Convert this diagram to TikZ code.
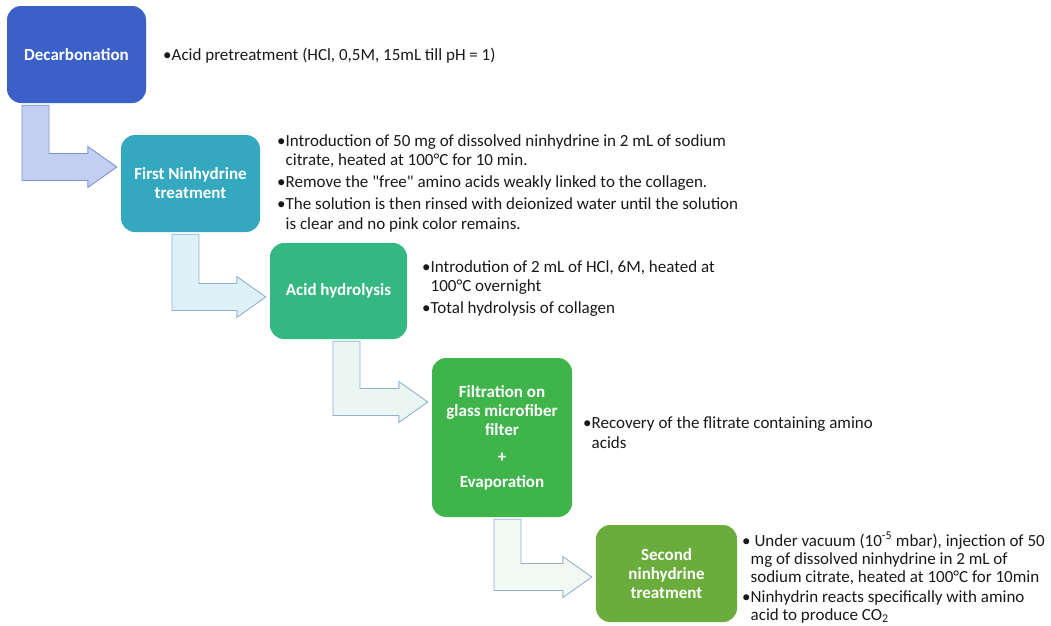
\documentclass[tikz,border=0pt]{standalone}
\usepackage{fontspec}
\setmainfont{Carlito}[Ligatures=TeXOff]
\usetikzlibrary{calc}
\definecolor{cDec}{RGB}{59,97,200}
\definecolor{cFirst}{RGB}{52,168,190}
\definecolor{cAcid}{RGB}{52,183,128}
\definecolor{cFilt}{RGB}{62,180,74}
\definecolor{cSec}{RGB}{106,173,61}
\definecolor{aFillA}{RGB}{196,205,242}
\definecolor{aLineA}{RGB}{125,148,214}
\definecolor{aFillB}{RGB}{221,241,248}
\definecolor{aFillC}{RGB}{233,246,241}
\definecolor{aFillD}{RGB}{242,249,243}
\definecolor{aLine}{RGB}{146,176,210}
\definecolor{txt}{RGB}{25,25,25}

\tikzset{
  stepbox/.style={rectangle, rounded corners=14pt, draw=none, text=white,
    font=\fontsize{17}{19}\selectfont\bfseries, align=center, inner sep=0pt},
  desc/.style={anchor=base west, align=left, inner sep=0pt,
    font=\fontsize{17}{19.5}\selectfont, text=txt},
  bent/.style={line width=0.9pt, line join=miter},
}

% #1 source, #2 target, #3 shaft centre offset from source centre (pt), #4 tip offset above target centre (pt), #5 fill, #6 line
\newcommand{\bentarrow}[6]{%
  \path[bent, fill=#5, draw=#6] let \p1=(#1.south), \p2=(#2.west),
      \n1={\x1+#3pt-13.5pt}, \n2={\x1+#3pt+13.5pt}, \n3={\y2+#4pt} in
    (\n1, {\y1-2pt})
    -- (\n1, {\n3-13.5pt})
    -- ({\x2-33pt}, {\n3-13.5pt})
    -- ({\x2-33pt}, {\n3-20.5pt})
    -- ({\x2-4pt}, \n3)
    -- ({\x2-33pt}, {\n3+20.5pt})
    -- ({\x2-33pt}, {\n3+13.5pt})
    -- (\n2, {\n3+13.5pt})
    -- (\n2, {\y1-2pt})
    -- cycle;
}

\begin{document}
\begin{tikzpicture}[x=1pt, y=-1pt]
\useasboundingbox (0,0) rectangle (1051,625);

\node[stepbox, fill=cDec, minimum width=139pt, minimum height=97pt] (dec) at (76.5,54.5) {Decarbonation};
\node[stepbox, fill=cFirst, minimum width=139pt, minimum height=97pt] (first) at (190.5,183.5) {First Ninhydrine\\treatment};
\node[stepbox, fill=cAcid, minimum width=137pt, minimum height=96pt] (acid) at (338.5,291) {Acid hydrolysis};
\node[stepbox, fill=cFilt, minimum width=140pt, minimum height=159pt] (filt) at (502,437.5) {Filtration on\\glass microfiber\\filter\\[8pt]+\\[6pt]Evaporation};
\node[stepbox, fill=cSec, minimum width=141pt, minimum height=97pt] (sec) at (666.5,573.5) {Second\\ninhydrine\\treatment};

\bentarrow{dec}{first}{-41}{16.5}{aFillA}{aLineA}
\bentarrow{first}{acid}{-5}{-6}{aFillB}{aLine}
\bentarrow{acid}{filt}{8}{35.5}{aFillC}{aLine}
\bentarrow{filt}{sec}{5.5}{-3.5}{aFillD}{aLine}

\node[desc] (tdec) at (163,60.5) {•Acid pretreatment (HCl, 0,5M, 15mL till pH = 1)};
\node[desc] (tfirst) at (277,229) {•Introduction of 50 mg of dissolved ninhydrine in 2 mL of sodium\\
\phantom{•}citrate, heated at 100°C for 10 min.\\[2.5pt]
•Remove the "free" amino acids weakly linked to the collagen.\\[2.5pt]
•The solution is then rinsed with deionized water until the solution\\
\phantom{•}is clear and no pink color remains.};
\node[desc] (tacid) at (422,313) {•Introdution of 2 mL of HCl, 6M, heated at\\
\phantom{•}100°C overnight\\[2pt]
•Total hydrolysis of collagen};
\node[desc] (tfilt) at (583,448) {•Recovery of the flitrate containing amino\\
\phantom{•}acids};
\node[desc, font=\fontsize{17}{18}\selectfont] (tsec) at (742,620) {• Under vacuum (10\textsuperscript{-5} mbar), injection of 50\\
\phantom{•}mg of dissolved ninhydrine in 2 mL of\\
\phantom{•}sodium citrate, heated at 100°C for 10min\\[2pt]
•Ninhydrin reacts specifically with amino\\
\phantom{•}acid to produce CO\textsubscript{2}};
\end{tikzpicture}
\end{document}
